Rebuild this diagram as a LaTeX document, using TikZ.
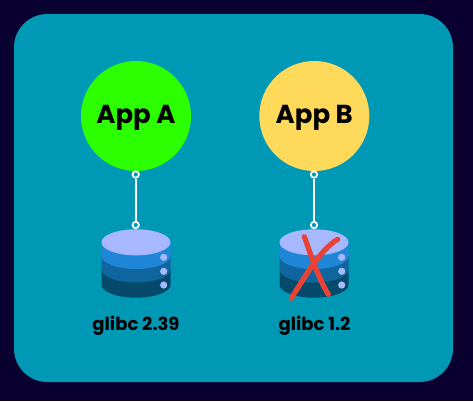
\documentclass[tikz,border=0pt]{standalone}
\usepackage{fontspec}
\setmainfont{Poppins}[BoldFont={* Bold}]
\definecolor{bgc}{HTML}{0A0030}
\definecolor{panelc}{HTML}{0099B5}
\definecolor{greenc}{HTML}{2BFF00}
\definecolor{yellowc}{HTML}{FFD95A}
\definecolor{dbtop}{HTML}{A8B8FF}
\definecolor{dbone}{HTML}{1F86D8}
\definecolor{dbtwo}{HTML}{0F659E}
\definecolor{dbthree}{HTML}{05496B}
\definecolor{crossc}{HTML}{EA4335}
\tikzset{
  x=0.75pt,y=-0.75pt,
  app/.style={circle,minimum size=82.5pt,inner sep=0pt,text=black},
  applabel/.style={font=\fontsize{19.5}{22}\selectfont\bfseries,text=black,inner sep=0pt},
  port/.style={circle,draw=white,fill=panelc,line width=1.3pt,minimum size=4.8pt,inner sep=0pt},
  link/.style={draw=white,line width=1.7pt},
  liblabel/.style={font=\fontsize{13.5}{15}\selectfont\bfseries,text=black,inner sep=0pt},
  crossline/.style={draw=crossc,line width=3.9pt,line cap=round,line join=round}
}
\newcommand{\dbstack}[1]{%
  \begin{scope}[shift={(#1,0)}]
    \fill[dbthree] (-34.5,270) -- (-34.5,284.7) arc[x radius=34.5,y radius=13,start angle=180,end angle=0] -- (34.5,270) -- cycle;
    \fill[dbtwo] (-34.5,256) -- (-34.5,269.5) arc[x radius=34.5,y radius=13,start angle=180,end angle=0] -- (34.5,256) -- cycle;
    \fill[dbone] (-34.5,242) -- (-34.5,256) arc[x radius=34.5,y radius=13,start angle=180,end angle=0] -- (34.5,242) -- cycle;
    \fill[dbtop] (0,242.3) ellipse[x radius=34.5,y radius=13];
    \foreach \yy in {257.3,271.3,285}{\fill[dbtop] (27.7,\yy) circle[radius=3.6];}
  \end{scope}}
\begin{document}
\begin{tikzpicture}
\fill[bgc] (0,0) rectangle (473,401);
\useasboundingbox (0,0) rectangle (473,401);
\fill[panelc,rounded corners=25pt] (14,14) rectangle (453,382);
\node[app,fill=greenc] (appa) at (136,116) {};
\node[app,fill=yellowc] (appb) at (314.3,116) {};
\node[applabel] (ta) at (136,118) {App A};
\node[applabel] (tb) at (314.3,118) {App B};
\dbstack{136}
\dbstack{314}
\node[port] (pa1) at (135.7,174.5) {};
\node[port] (pa2) at (135.7,225) {};
\node[port] (pb1) at (314,174.5) {};
\node[port] (pb2) at (314,225) {};
\draw[link] (pa1) -- (pa2);
\draw[link] (pb1) -- (pb2);
\draw[crossline] (304.3,236.7) .. controls (310,252) and (318,278) .. (328.3,294.3);
\draw[crossline] (337.7,239.3) .. controls (322,249) and (310,268) .. (291.3,298.3);
\node[liblabel] (la) at (136,326) {glibc 2.39};
\node[liblabel] (lb) at (314.5,326) {glibc 1.2};
\end{tikzpicture}
\end{document}
